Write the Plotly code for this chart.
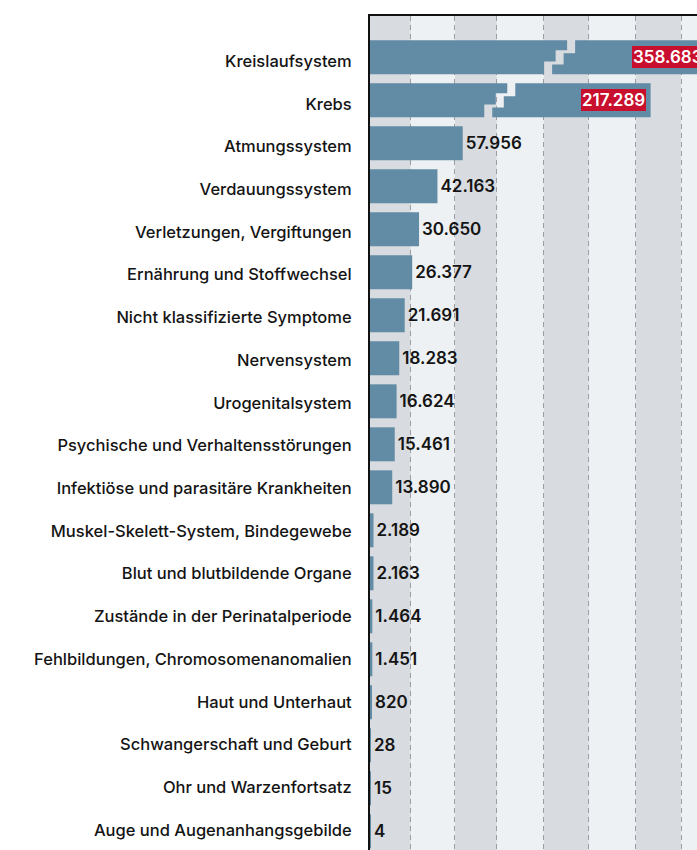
import plotly.graph_objects as go

# ---------------- data ----------------
CATEGORIES = [
    "Kreislaufsystem", "Krebs", "Atmungssystem", "Verdauungssystem",
    "Verletzungen, Vergiftungen", "Ernährung und Stoffwechsel",
    "Nicht klassifizierte Symptome", "Nervensystem", "Urogenitalsystem",
    "Psychische und Verhaltensstörungen", "Infektiöse und parasitäre Krankheiten",
    "Muskel-Skelett-System, Bindegewebe", "Blut und blutbildende Organe",
    "Zustände in der Perinatalperiode", "Fehlbildungen, Chromosomenanomalien",
    "Haut und Unterhaut", "Schwangerschaft und Geburt", "Ohr und Warzenfortsatz",
    "Auge und Augenanhangsgebilde",
]
VALUES = [358683, 217289, 57956, 42163, 30650, 26377, 21691, 18283, 16624,
          15461, 13890, 2189, 2163, 1464, 1451, 820, 28, 15, 4]

# ---------------- style / layout constants ----------------
FONT = "Inter"
BAR_COLOR = "#628ba5"
BAND_DARK = "#d8dbdf"
BAND_LIGHT = "#eef1f3"
GRID_COLOR = "#9a9da1"
LABEL_RED = "#c80f2e"
TEXT_COLOR = "#141414"

W, H = 697, 850
M_L, M_T = 370, 16
PX_PER_UNIT = 0.0016               # 1.6 px per 1000
X_MAX = (W - M_L) / PX_PER_UNIT
ROW_PX = 43.0
Y_TOP = -0.9605
Y_BOT = Y_TOP + (H - M_T) / ROW_PX
BAR_W = 0.79
LABEL_PITCH_PX = 42.72             # category labels sit on a slightly tighter pitch
LABEL_OFFSET_PX = 3.7

# broken-axis compression for very large values
BREAK_THRESHOLD = 160800
COMPRESS = 0.258
# where the zigzag break sits on the two broken bars (axis units)
BREAK_CENTER = {0: 125700, 1: 88300}

GRID = [25400, 53100, 79200, 108600, 136700, 166100, 194400]


def disp(v):
    return v if v <= BREAK_THRESHOLD else BREAK_THRESHOLD + (v - BREAK_THRESHOLD) * COMPRESS


def fmt(v):
    return f"{v:,}".replace(",", ".")


fig = go.Figure()

# normal bars
normal_idx = [i for i, v in enumerate(VALUES) if v <= BREAK_THRESHOLD]
fig.add_trace(go.Bar(
    orientation="h",
    x=[VALUES[i] for i in normal_idx],
    y=normal_idx,
    width=BAR_W,
    marker=dict(color=BAR_COLOR, line=dict(width=0)),
    text=[fmt(VALUES[i]) for i in normal_idx],
    textposition="outside",
    textfont=dict(family=FONT, size=17, color=TEXT_COLOR, weight=600),
    constraintext="none",
    cliponaxis=False,
    hoverinfo="skip",
    showlegend=False,
))

# broken bars drawn as two filled pieces with a staircase gap
px_x = 1 / PX_PER_UNIT        # axis units per pixel (x)
px_y = 1 / ROW_PX             # axis units per pixel (y)
gap_w = 8 * px_x
step_s = 11.5 * px_x
gap_t = 3 * px_y
for i, v in enumerate(VALUES):
    if v <= BREAK_THRESHOLD:
        continue
    d = disp(v)
    xc = BREAK_CENTER[i]
    top, bot = i - BAR_W / 2, i + BAR_W / 2
    h = BAR_W / 3
    y1, y2 = top + h, top + 2 * h
    L = [(xc - gap_w / 2, top), (xc - gap_w / 2, y1 - gap_t / 2),
         (xc - step_s - gap_w / 2, y1 - gap_t / 2),
         (xc - step_s - gap_w / 2, y2 - gap_t / 2),
         (xc - 2 * step_s - gap_w / 2, y2 - gap_t / 2),
         (xc - 2 * step_s - gap_w / 2, bot)]
    R = [(xc + gap_w / 2, top), (xc + gap_w / 2, y1 + gap_t / 2),
         (xc - step_s + gap_w / 2, y1 + gap_t / 2),
         (xc - step_s + gap_w / 2, y2 + gap_t / 2),
         (xc - 2 * step_s + gap_w / 2, y2 + gap_t / 2),
         (xc - 2 * step_s + gap_w / 2, bot)]
    left = [(0, top)] + L + [(0, bot), (0, top)]
    right = R + [(d, bot), (d, top), R[0]]
    for poly in (left, right):
        fig.add_trace(go.Scatter(
            x=[p[0] for p in poly], y=[p[1] for p in poly],
            mode="lines", fill="toself", fillcolor=BAR_COLOR,
            line=dict(width=0, color=BAR_COLOR),
            hoverinfo="skip", showlegend=False,
        ))
    fig.add_annotation(
        x=d / X_MAX, y=i, xref="paper", yref="y", text=fmt(v), showarrow=False,
        xanchor="right", xshift=-5, yanchor="middle",
        font=dict(family=FONT, size=17, color="white", weight=600),
        bgcolor=LABEL_RED, borderpad=1, borderwidth=0,
    )

# alternating background bands
edges = [0] + GRID + [X_MAX * 1.5]
for k in range(0, len(edges) - 1, 2):
    fig.add_shape(type="rect", xref="x", yref="paper",
                  x0=edges[k], x1=edges[k + 1], y0=0, y1=1,
                  fillcolor=BAND_DARK, line=dict(width=0), layer="below")

fig.update_layout(
    width=W, height=H,
    margin=dict(l=M_L, r=0, t=M_T, b=0, pad=0),
    paper_bgcolor="white",
    plot_bgcolor=BAND_LIGHT,
    font=dict(family=FONT, size=16, color=TEXT_COLOR),
    showlegend=False,
    bargap=0.2,
)
fig.update_xaxes(
    range=[0, X_MAX], side="top", showline=True, linecolor="#111111", linewidth=2,
    showticklabels=False, ticks="", zeroline=False,
    tickvals=GRID, showgrid=True, gridcolor=GRID_COLOR, gridwidth=1.2,
    griddash="5px,4px", fixedrange=True,
)
label_pos = [(LABEL_OFFSET_PX + LABEL_PITCH_PX * i) / ROW_PX for i in range(len(CATEGORIES))]
fig.update_yaxes(
    range=[Y_BOT, Y_TOP], tickmode="array",
    tickvals=label_pos, ticktext=CATEGORIES,
    showline=True, linecolor="#111111", linewidth=2, ticks="",
    showgrid=False, zeroline=False, ticklabelstandoff=13,
    tickfont=dict(family=FONT, size=16.5, color=TEXT_COLOR, weight=500),
    fixedrange=True,
)

fig.write_html(
    "out.html",
    config={"displayModeBar": False},
    post_script="document.body.style.margin='0';document.body.style.overflow='hidden';",
)
